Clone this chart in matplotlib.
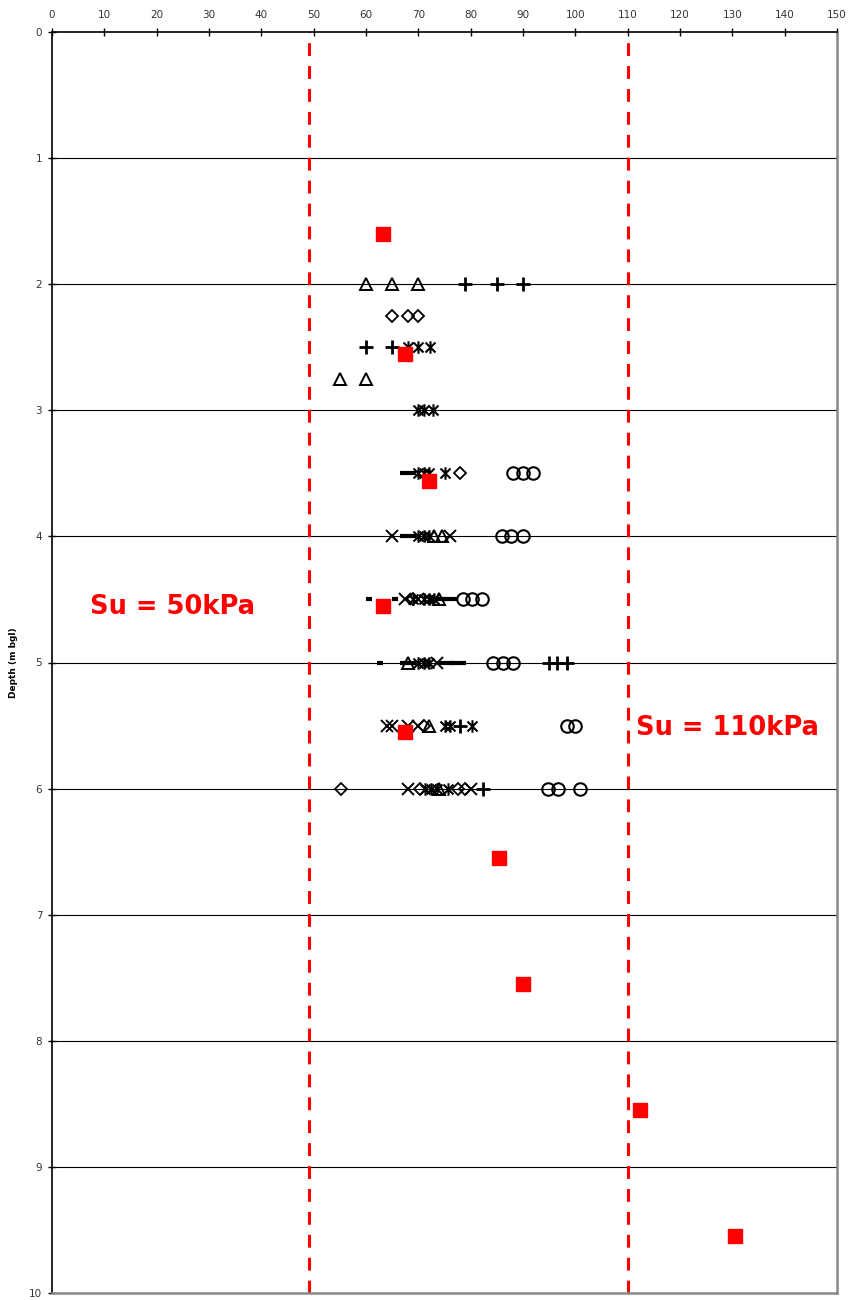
import matplotlib
matplotlib.use("Agg")
import matplotlib.pyplot as plt
from matplotlib.path import Path

# ---------------- data ----------------
su_lower = 49.2
su_upper = 110
su_lower_label = "Su = 50kPa"
su_upper_label = "Su = 110kPa"

red_x = [63.2, 67.5, 72.0, 63.2, 67.5, 85.4, 90.0, 112.4, 130.5]
red_y = [1.60, 2.55, 3.56, 4.55, 5.55, 6.55, 7.55, 8.55, 9.55]

tri_x = [60, 65, 70, 55, 60, 73, 74.5, 74, 68, 72, 74]
tri_y = [2, 2, 2, 2.75, 2.75, 4, 4, 4.5, 5, 5.5, 6]

plus_x = [79, 85, 90, 60, 65, 95, 96.5, 98.4, 78, 82.4]
plus_y = [2, 2, 2, 2.5, 2.5, 5, 5, 5, 5.5, 6]

diam_x = [65, 68, 70, 78, 69, 71, 55.2, 70.3, 77.6, 79]
diam_y = [2.25, 2.25, 2.25, 3.5, 4.5, 5.5, 6, 6, 6, 6]

star_x = [68, 70, 72.3, 70, 71, 72.8, 70, 71, 72, 75.1, 70, 71, 72,
          69, 71, 72, 73, 70, 71, 72, 75, 76, 80.2, 71.3, 72.4, 73.5, 75.6]
star_y = [2.5, 2.5, 2.5, 3, 3, 3, 3.5, 3.5, 3.5, 3.5, 4, 4, 4,
          4.5, 4.5, 4.5, 4.5, 5, 5, 5, 5.5, 5.5, 5.5, 6, 6, 6, 6]

x_x = [64.9, 76, 67.5, 70, 73.5, 64, 65, 68, 70, 68, 80]
x_y = [4, 4, 4.5, 4.5, 5, 5.5, 5.5, 5.5, 5.5, 6, 6]

circ_x = [88.1, 90, 91.9, 85.9, 87.8, 90, 78.6, 80.3, 82.2,
          84.3, 86.2, 88.1, 98.4, 100, 94.8, 96.7, 100.9]
circ_y = [3.5, 3.5, 3.5, 4, 4, 4, 4.5, 4.5, 4.5,
          5, 5, 5, 5.5, 5.5, 6, 6, 6]

sdash_x = [60.6, 65.5, 62.7]
sdash_y = [4.5, 4.5, 5]

ldash_x = [68, 68, 74, 76, 68, 75.5, 77.5]
ldash_y = [3.5, 4, 4.5, 4.5, 5, 5, 5]

x_ticks = list(range(0, 151, 10))
y_ticks = list(range(0, 11))
y_label = "Depth (m bgl)"

# ---------------- figure ----------------
fig = plt.figure(figsize=(8.51, 13.0), dpi=100)
ax = fig.add_axes([52 / 851, 1 - 1293 / 1300, 785 / 851, 1261 / 1300])
ax.set_xlim(0, 150)
ax.set_ylim(10, 0)

for d in y_ticks[1:-1]:
    ax.axhline(d, color="black", lw=0.8, zorder=1)

for xv in (su_lower, su_upper):
    ax.axvline(xv, color="#ff0000", lw=2.2, dashes=(4.2, 3.3), zorder=2)

# custom Excel-style star: X with vertical bar
star_path = Path(
    [(-1, -1), (1, 1), (-1, 1), (1, -1), (0, -1.25), (0, 1.25)],
    [Path.MOVETO, Path.LINETO, Path.MOVETO, Path.LINETO, Path.MOVETO, Path.LINETO],
)

kw = dict(ls="none", color="black", zorder=3)
ax.plot(tri_x, tri_y, marker="^", ms=8, mfc="none", mec="black", mew=1.4, **kw)
ax.plot(plus_x, plus_y, marker="+", ms=10, mec="black", mew=2.0, **kw)
ax.plot(diam_x, diam_y, marker="D", ms=6.5, mfc="none", mec="black", mew=1.3, **kw)
ax.plot(star_x, star_y, marker=star_path, ms=9, mec="black", mew=1.5, **kw)
ax.plot(x_x, x_y, marker="x", ms=8, mec="black", mew=1.4, **kw)
ax.plot(circ_x, circ_y, marker="o", ms=9, mfc="none", mec="black", mew=1.5, **kw)
ax.plot(sdash_x, sdash_y, marker="_", ms=5, mec="black", mew=3.0, **kw)
ax.plot(ldash_x, ldash_y, marker="_", ms=11, mec="black", mew=3.0, **kw)

ax.plot(red_x, red_y, ls="none", marker="s", ms=9.5, color="#ff0000",
        mec="#ff0000", zorder=4)

ax.text(7.3, 4.56, su_lower_label, color="#ff0000", fontsize=18.5,
        va="center", ha="left", fontweight="bold", family="DejaVu Sans", zorder=5)
ax.text(111.6, 5.52, su_upper_label, color="#ff0000", fontsize=18.5,
        va="center", ha="left", fontweight="bold", family="DejaVu Sans", zorder=5)

ax.xaxis.tick_top()
ax.set_xticks(x_ticks)
ax.set_yticks(y_ticks)
ax.tick_params(axis="both", direction="inout", length=6, width=1,
               labelsize=7.5, labelcolor="#333333", colors="black")
ax.tick_params(axis="x", pad=6)
ax.tick_params(axis="y", pad=4)

ax.spines["top"].set_color("black")
ax.spines["top"].set_linewidth(1.2)
ax.spines["left"].set_color("black")
ax.spines["left"].set_linewidth(1.2)
ax.spines["right"].set_color("#888888")
ax.spines["right"].set_linewidth(1.8)
ax.spines["bottom"].set_color("#888888")
ax.spines["bottom"].set_linewidth(1.8)

ax.set_ylabel(y_label, fontsize=6.5, fontweight="bold", labelpad=8)

fig.savefig("out.png", dpi=100)
